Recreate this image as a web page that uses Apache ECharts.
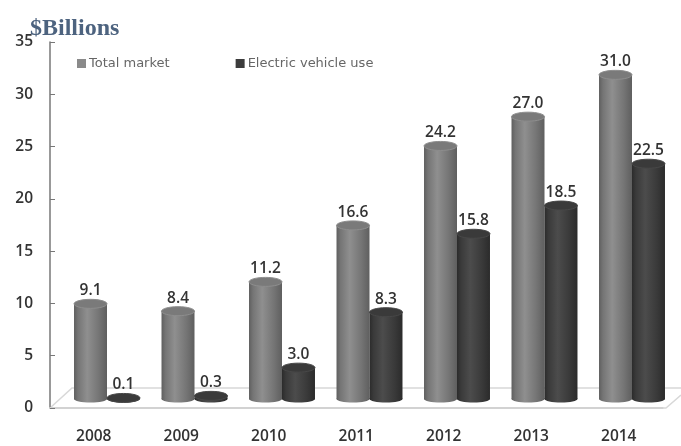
<!DOCTYPE html>
<html><head><meta charset="utf-8">
<style>html,body{margin:0;padding:0;background:#fff}#c{width:681px;height:446px;filter:blur(0.5px)}</style>
<script src="https://cdn.jsdelivr.net/npm/echarts@6/dist/echarts.min.js"></script>
</head><body><div id="c"></div>
<script>
const years = ['2008','2009','2010','2011','2012','2013','2014'];
const totalMarket = [9.1,8.4,11.2,16.6,24.2,27.0,31.0];
const evUse = [0.1,0.3,3.0,8.3,15.8,18.5,22.5];
const yTicks = {min:0,max:35,interval:5};

function grad(a,b,c){
  return {type:'linear',x:0,y:0,x2:1,y2:0,colorStops:[
    {offset:0,color:a},{offset:0.12,color:b},{offset:0.4,color:c},{offset:0.75,color:b},{offset:1,color:a}]};
}
function cylinder(dir,cols,topCol,rimCol){
  return function(params,api){
    const top = api.coord([api.value(0),api.value(1)]);
    const base = api.coord([api.value(0),0]);
    const w = api.size([1,0])[0]*0.377;
    const cx = top[0]+dir*w/2;
    const ry = 4.5, rx = w/2;
    return {type:'group',children:[
      {type:'rect',shape:{x:cx-rx,y:top[1],width:w,height:base[1]-top[1]},style:{fill:grad(...cols)}},
      {type:'ellipse',shape:{cx:cx,cy:base[1],rx:rx,ry:ry-1},style:{fill:grad(...cols)}},
      {type:'ellipse',shape:{cx:cx,cy:top[1],rx:rx,ry:ry},style:{fill:topCol,stroke:rimCol,lineWidth:1}},
      {type:'text',x:cx,y:top[1]-5,style:{text:api.value(1).toFixed(1),fontFamily:'Open Sans',fontWeight:600,fontSize:15.5,fill:'#333',align:'center',verticalAlign:'bottom'}}
    ]};
  };
}
const chart = echarts.init(document.getElementById('c'));
chart.setOption({
  animation:false,
  backgroundColor:'#fff',
  title:{text:'$Billions',left:25,top:12,textStyle:{fontFamily:'Liberation Serif',fontWeight:'bold',fontSize:24,color:'#4d637f'}},
  legend:[
    {left:72,top:52,itemWidth:9,itemHeight:9,itemGap:66,icon:'rect',selectedMode:false,
     data:['Total market','Electric vehicle use'],
     textStyle:{fontFamily:'DejaVu Sans',fontSize:13,color:'#666',padding:[0,0,0,-2]}}
  ],
  grid:[
    {left:50,top:42,width:612.5,height:366,show:false},
    {left:63.25,top:33,width:612.5,height:366,show:false}
  ],
  xAxis:[
    {gridIndex:0,type:'category',data:years,
     axisLine:{lineStyle:{color:'#d2d2d2',width:2}},axisTick:{show:false},
     axisLabel:{margin:21,fontFamily:'Open Sans',fontWeight:600,fontSize:15.5,color:'#333'}},
    {gridIndex:1,type:'category',data:years,show:false}
  ],
  yAxis:[
    {gridIndex:0,type:'value',min:yTicks.min,max:yTicks.max,interval:yTicks.interval,
     splitLine:{show:false},
     axisLine:{show:true,lineStyle:{color:'#777',width:1.5}},
     axisTick:{show:true,inside:true,length:5,lineStyle:{color:'#777'}},
     axisLabel:{margin:17,fontFamily:'Open Sans',fontWeight:600,fontSize:15.5,color:'#333'}},
    {gridIndex:1,type:'value',min:yTicks.min,max:yTicks.max,interval:yTicks.interval,show:false}
  ],
  graphic:[
    {type:'polyline',z:0,silent:true,shape:{points:[[50,408],[72,388],[681,388]]},style:{stroke:'#d8d8d8',lineWidth:1.5,fill:null}},
    {type:'polyline',z:0,silent:true,shape:{points:[[662,408],[666,408],[681,395]]},style:{stroke:'#d8d8d8',lineWidth:1.5,fill:null}}
  ],
  series:[
    {name:'Total market',type:'custom',xAxisIndex:1,yAxisIndex:1,z:3,
     itemStyle:{color:'#8a8a8a'},
     encode:{x:0,y:1},data:totalMarket.map((v,i)=>[i,v]),
     renderItem:cylinder(-1,['#5f5f5f','#757575','#8f8f8f'],'#7a7a7a','#8e8e8e')},
    {name:'Electric vehicle use',type:'custom',xAxisIndex:1,yAxisIndex:1,z:4,
     itemStyle:{color:'#3c3c3c'},
     encode:{x:0,y:1},data:evUse.map((v,i)=>[i,v]),
     renderItem:cylinder(1,['#2b2b2b','#3a3a3a','#4c4c4c'],'#3a3a3a','#484848')}
  ]
});
</script></body></html>
